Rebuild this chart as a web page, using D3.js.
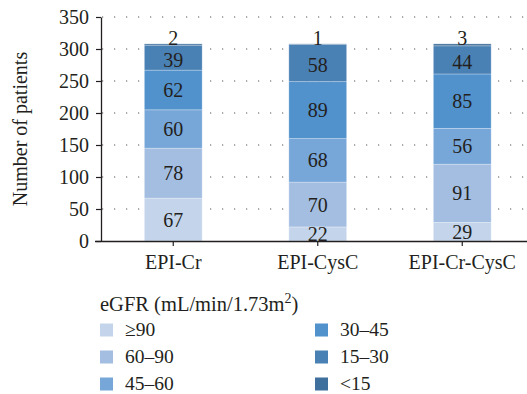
<!DOCTYPE html>
<html><head><meta charset="utf-8">
<script src="https://cdn.jsdelivr.net/npm/d3@7"></script>
<style>body{margin:0;background:#fff}svg{display:block}text{font-family:"Liberation Serif","DejaVu Serif",serif;fill:#231f20}</style>
</head><body><svg id="c" width="527" height="394"></svg>
<script>
const categories = ["EPI-Cr", "EPI-CysC", "EPI-Cr-CysC"];
const seriesNames = ["≥90", "60–90", "45–60", "30–45", "15–30", "<15"];
const seriesColors = ["#c4d5eb", "#a4bee2", "#77a6d8", "#5191cc", "#4a81b4", "#3f6f9c"];
const ge90 = [67, 22, 29];
const s60_90 = [78, 70, 91];
const s45_60 = [60, 68, 56];
const s30_45 = [62, 89, 85];
const s15_30 = [39, 58, 44];
const lt15 = [2, 1, 3];
const yTicks = [0, 50, 100, 150, 200, 250, 300, 350];

const seriesValues = [ge90, s60_90, s45_60, s30_45, s15_30, lt15];
const rows = categories.map((c, i) => {
  const r = {cat: c};
  seriesNames.forEach((s, j) => r[s] = seriesValues[j][i]);
  return r;
});
const stack = d3.stack().keys(seriesNames)(rows);

const svg = d3.select("#c");
const x = d3.scaleBand().domain(categories).range([101, 534.5]).paddingInner(0.6).paddingOuter(0.3);
const y = d3.scaleLinear().domain([0, 350]).range([241, 17]);

// grid dotted
svg.append("g").selectAll("line").data(yTicks.filter(d => d > 0)).join("line")
  .attr("x1", 102).attr("x2", 527).attr("y1", d => y(d)).attr("y2", d => y(d))
  .attr("stroke", "#555").attr("stroke-width", 1.2).attr("stroke-dasharray", "1.2,10.8");

// bars
stack.forEach((layer, j) => {
  svg.append("g").selectAll("rect").data(layer).join("rect")
    .attr("x", d => x(d.data.cat)).attr("width", x.bandwidth())
    .attr("y", d => y(d[1])).attr("height", d => y(d[0]) - y(d[1]))
    .attr("fill", seriesColors[j]).attr("stroke", "rgba(255,255,255,0.35)").attr("stroke-width", 0.8);
});
// labels
stack.forEach((layer, j) => {
  svg.append("g").selectAll("text").data(layer).join("text")
    .attr("x", d => x(d.data.cat) + x.bandwidth() / 2)
    .attr("y", d => {
      if (j === seriesNames.length - 1) return y(d[1]) + 1;
      if (j === seriesNames.length - 2) return y((d[0] + d[1]) / 2) + 9;
      return y((d[0] + d[1]) / 2) + 7;
    })
    .attr("text-anchor", "middle").attr("font-size", 20)
    .text(d => d[1] - d[0]);
});

// y axis
const ya = svg.append("g").attr("transform", "translate(101,0)")
  .call(d3.axisLeft(y).tickValues(yTicks).tickSize(5).tickSizeOuter(0));
ya.select(".domain").attr("stroke", "#231f20").attr("stroke-width", 1.3);
ya.selectAll(".tick line").attr("stroke", "#231f20").attr("stroke-width", 1.2);
ya.selectAll(".tick text").attr("font-size", 20).attr("font-family", "Liberation Serif").attr("fill", "#231f20").attr("dy", "0.34em").attr("x", -12);

// x axis
const xa = svg.append("g").attr("transform", "translate(0,241)")
  .call(d3.axisBottom(x).tickSize(5).tickSizeOuter(0));
xa.select(".domain").attr("d", "M95,0.5H527").attr("stroke", "#231f20").attr("stroke-width", 1.3);
xa.selectAll(".tick line").attr("stroke", "#231f20").attr("stroke-width", 1.2);
xa.selectAll(".tick text").attr("font-size", 20).attr("font-family", "Liberation Serif").attr("fill", "#231f20").attr("y", 14).attr("dy", "0.71em");

// y title
svg.append("text").attr("transform", "translate(27,129) rotate(-90)")
  .attr("text-anchor", "middle").attr("font-size", 20).text("Number of patients");

// legend
const lt = svg.append("text").attr("x", 100).attr("y", 311).attr("font-size", 20.5);
lt.append("tspan").text("eGFR (mL/min/1.73m");
lt.append("tspan").attr("font-size", 14).attr("dy", -8).text("2");
lt.append("tspan").attr("dy", 8).text(")");

const lg = svg.append("g").selectAll("g").data(seriesNames).join("g")
  .attr("transform", (d, i) => `translate(${i < 3 ? 100 : 315},${[330, 357, 384][i % 3]})`);
lg.append("rect").attr("x", 0).attr("y", -6.5).attr("width", 13).attr("height", 13)
  .attr("fill", (d, i) => seriesColors[i]);
lg.append("text").attr("x", 25).attr("y", 6).attr("font-size", 19.5).text(d => d);
</script></body></html>
